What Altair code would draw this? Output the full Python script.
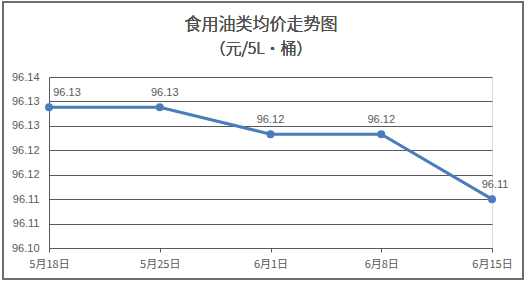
import altair as alt
import pandas as pd

dates = ["5月18日", "5月25日", "6月1日", "6月8日", "6月15日"]
prices = [96.1293, 96.1293, 96.1238, 96.1238, 96.1105]
y_ticks = [96.1005, 96.1055, 96.1105, 96.1155, 96.1205, 96.1255, 96.1305, 96.1355]
label_dx = [18, 5, 0, 0, 3]

df = pd.DataFrame({"date": dates, "price": prices, "dx": label_dx})

FONT = "Liberation Sans"
CJK = "Noto Sans CJK SC"
TEXT = "#595959"
GRID = "#5a5a5a"
BLUE = "#4a7ebb"

x = alt.X("date:N", sort=dates, title=None,
          scale=alt.Scale(type="point", padding=0),
          axis=alt.Axis(labelAngle=0, labelFont=CJK, labelFontSize=11,
                        labelFontWeight="normal",
                        labelColor=TEXT, domainColor=GRID, tickColor=GRID,
                        tickSize=4, labelPadding=6, grid=False))
y = alt.Y("price:Q", title=None,
          scale=alt.Scale(domain=[y_ticks[0], y_ticks[-1]], zero=False, nice=False),
          axis=alt.Axis(values=y_ticks, format=".2f", labelFont=FONT,
                        labelFontSize=11, labelColor=TEXT, domainColor=GRID,
                        gridColor=GRID, grid=True, ticks=False, labelPadding=10))

base = alt.Chart(df)
line = base.mark_line(color=BLUE, strokeWidth=3).encode(x=x, y=y)
pts = base.mark_circle(color=BLUE, size=64, opacity=1).encode(x=x, y=y)
labels = base.mark_text(font=FONT, fontSize=11, color=TEXT, dy=-14).encode(
    x=x, y=y, text=alt.Text("price:Q", format=".2f"),
    xOffset=alt.XOffset("dx:Q", scale=None))

title1 = base.mark_text(font=CJK, fontSize=17, fontWeight=300, color="#505050", clip=False).encode(
    x=alt.value(212), y=alt.value(-52), text=alt.value("食用油类均价走势图"))
title2 = base.mark_text(font=CJK, fontSize=16, fontWeight=300, color="#505050", clip=False).encode(
    x=alt.value(212), y=alt.value(-28), text=alt.value("（元/5L·桶）"))
border = base.mark_rect(fill=None, stroke="#6e6e6e", strokeWidth=1.5, clip=False).encode(
    x=alt.value(-46), x2=alt.value(474), y=alt.value(-75), y2=alt.value(202))

chart = alt.layer(border, line, pts, labels, title1, title2).properties(
    width=443, height=171,
    autosize=alt.AutoSizeParams(type="none"),
    padding={"left": 49, "top": 77, "right": 38, "bottom": 35},
).configure_view(stroke=None).configure(background="white")

chart.save("out.html", embed_options={"renderer": "svg", "actions": False})
